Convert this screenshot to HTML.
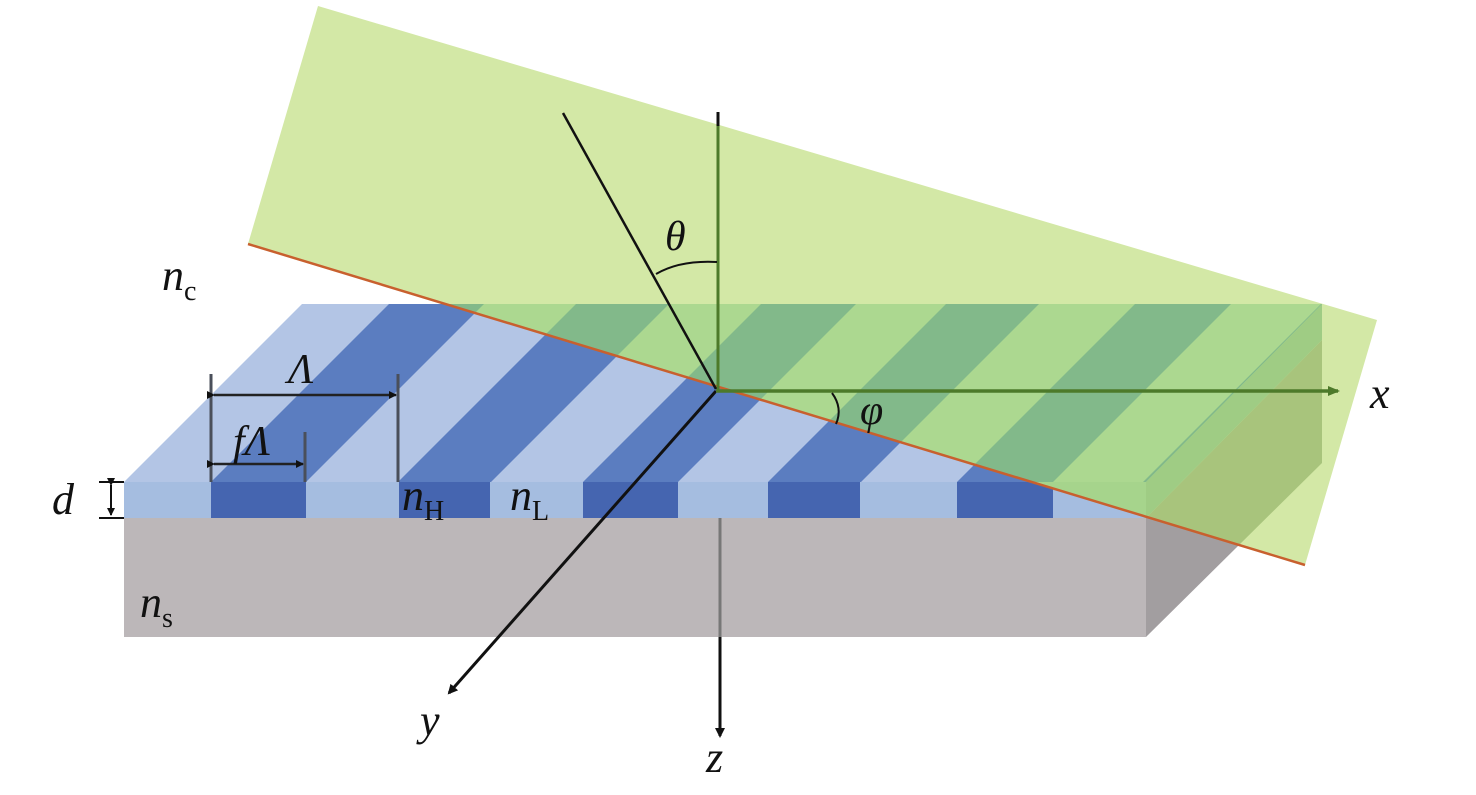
<!DOCTYPE html>
<html><head><meta charset="utf-8"><style>
html,body{margin:0;padding:0;background:#fff;}
svg{display:block;}
text{font-family:"Liberation Serif",serif;font-style:italic;fill:#111;}
.sub{font-style:normal;}
</style></head><body>
<svg width="1476" height="795" viewBox="0 0 1476 795" xmlns="http://www.w3.org/2000/svg">
<defs>
<clipPath id="top"><polygon points="124,482 302,304 1322,304 1146,482"/></clipPath>
<clipPath id="pl"><polygon points="318,6 1377,320 1305,565 248,244"/></clipPath>
<marker id="ah" markerWidth="10" markerHeight="10" refX="8" refY="5" orient="auto" markerUnits="userSpaceOnUse"><polygon points="0,0 10,5 0,10" fill="#111"/></marker>
<marker id="ahg" markerWidth="12" markerHeight="10" refX="10" refY="5" orient="auto" markerUnits="userSpaceOnUse"><polygon points="0,0 12,5 0,10" fill="#4d7a2a"/></marker>
<marker id="sa" markerWidth="8" markerHeight="8" refX="7" refY="4" orient="auto" markerUnits="userSpaceOnUse"><polygon points="0,0 8,4 0,8" fill="#111"/></marker>
</defs>
<!-- substrate -->
<rect x="124" y="518" width="1022" height="119" fill="#bcb7b9"/>
<polygon points="1146,518 1322,340 1322,463 1146,637" fill="#a29ea0"/>
<polygon points="1146,482 1322,304 1322,340 1146,518" fill="#a5bde0"/>
<polygon points="124,482 302,304 1322,304 1146,482" fill="#b3c5e5"/>
<g clip-path="url(#top)" fill="#5b7dc0">
<polygon points="211,482 306,482 484,304 389,304"/>
<polygon points="398,482 491,482 669,304 576,304"/>
<polygon points="583,482 678,482 856,304 761,304"/>
<polygon points="768,482 861,482 1039,304 946,304"/>
<polygon points="957,482 1053,482 1231,304 1135,304"/>
<polygon points="1143,482 1240,482 1418,304 1321,304"/>
</g>
<rect x="124" y="482" width="1022" height="36" fill="#a5bde0"/>
<g fill="#4565b0">
<rect x="211" y="482" width="95" height="36"/>
<rect x="399" y="482" width="91" height="36"/>
<rect x="583" y="482" width="95" height="36"/>
<rect x="768" y="482" width="92" height="36"/>
<rect x="957" y="482" width="96" height="36"/>
</g>
<!-- z axis -->
<line x1="720" y1="518" x2="720" y2="637" stroke="#777" stroke-width="3"/>
<line x1="720" y1="637" x2="720" y2="736" stroke="#111" stroke-width="3" marker-end="url(#ah)"/>
<!-- green plane -->
<polygon points="318,6 1377,320 1305,565 248,244" fill="#d3e8a6"/>
<g clip-path="url(#pl)">
<polygon points="1146,518 1322,340 1322,463 1146,637" fill="#a8c47c"/>
<polygon points="1146,482 1322,304 1322,340 1146,518" fill="#9fcc84"/>
<polygon points="124,482 302,304 1322,304 1146,482" fill="#acd890"/>
<g clip-path="url(#top)" fill="#82b98a">
<polygon points="211,482 306,482 484,304 389,304"/>
<polygon points="398,482 491,482 669,304 576,304"/>
<polygon points="583,482 678,482 856,304 761,304"/>
<polygon points="768,482 861,482 1039,304 946,304"/>
<polygon points="957,482 1053,482 1231,304 1135,304"/>
<polygon points="1143,482 1240,482 1418,304 1321,304"/>
</g>
<rect x="124" y="482" width="1022" height="36" fill="#a6d48c"/>
</g>
<line x1="248" y1="244" x2="1305" y2="565" stroke="#c8602e" stroke-width="2.5"/>
<!-- y axis -->
<line x1="716" y1="391" x2="449" y2="693" stroke="#111" stroke-width="3" marker-end="url(#ah)"/>
<!-- normal & axes -->
<line x1="718" y1="112" x2="718" y2="391" stroke="#4d7a2a" stroke-width="3"/>
<line x1="718" y1="112" x2="718" y2="126" stroke="#111" stroke-width="3"/>
<line x1="716" y1="391" x2="1338" y2="391" stroke="#4d7a2a" stroke-width="3.5" marker-end="url(#ahg)"/>
<line x1="563" y1="113" x2="716" y2="389" stroke="#111" stroke-width="2.5"/>
<path d="M656,274 Q680,260 717,262" fill="none" stroke="#111" stroke-width="2"/>
<path d="M832,393 Q843,408 836,424" fill="none" stroke="#111" stroke-width="2"/>
<!-- dimension lines -->
<g stroke="#4a4f5a" stroke-width="3">
<line x1="211" y1="374" x2="211" y2="482"/>
<line x1="398" y1="374" x2="398" y2="482"/>
<line x1="305" y1="432" x2="305" y2="482"/>
</g>
<line x1="214" y1="395" x2="396" y2="395" stroke="#222" stroke-width="2.5" marker-start="url(#sa)" marker-end="url(#sa)"/>
<line x1="214" y1="464" x2="303" y2="464" stroke="#222" stroke-width="2.5" marker-start="url(#sa)" marker-end="url(#sa)"/>
<g stroke="#111" stroke-width="2">
<line x1="99" y1="482" x2="124" y2="482"/>
<line x1="99" y1="518" x2="124" y2="518"/>
<line x1="111" y1="485" x2="111" y2="515" marker-start="url(#sa)" marker-end="url(#sa)"/>
</g>
<!-- labels -->
<text x="162" y="290" font-size="44">n<tspan class="sub" font-size="28" dy="10">c</tspan></text>
<text x="288" y="383" font-size="42">Λ</text>
<text x="233" y="455" font-size="42">fΛ</text>
<text x="52" y="514" font-size="44">d</text>
<text x="402" y="510" font-size="44">n<tspan class="sub" font-size="28" dy="10">H</tspan></text>
<text x="510" y="510" font-size="44">n<tspan class="sub" font-size="28" dy="10">L</tspan></text>
<text x="140" y="617" font-size="44">n<tspan class="sub" font-size="28" dy="10">s</tspan></text>
<text x="420" y="735" font-size="44">y</text>
<text x="706" y="772" font-size="44">z</text>
<text x="1370" y="408" font-size="44">x</text>
<text x="665" y="250" font-size="42">θ</text>
<text x="860" y="424" font-size="42">φ</text>
</svg>
</body></html>
